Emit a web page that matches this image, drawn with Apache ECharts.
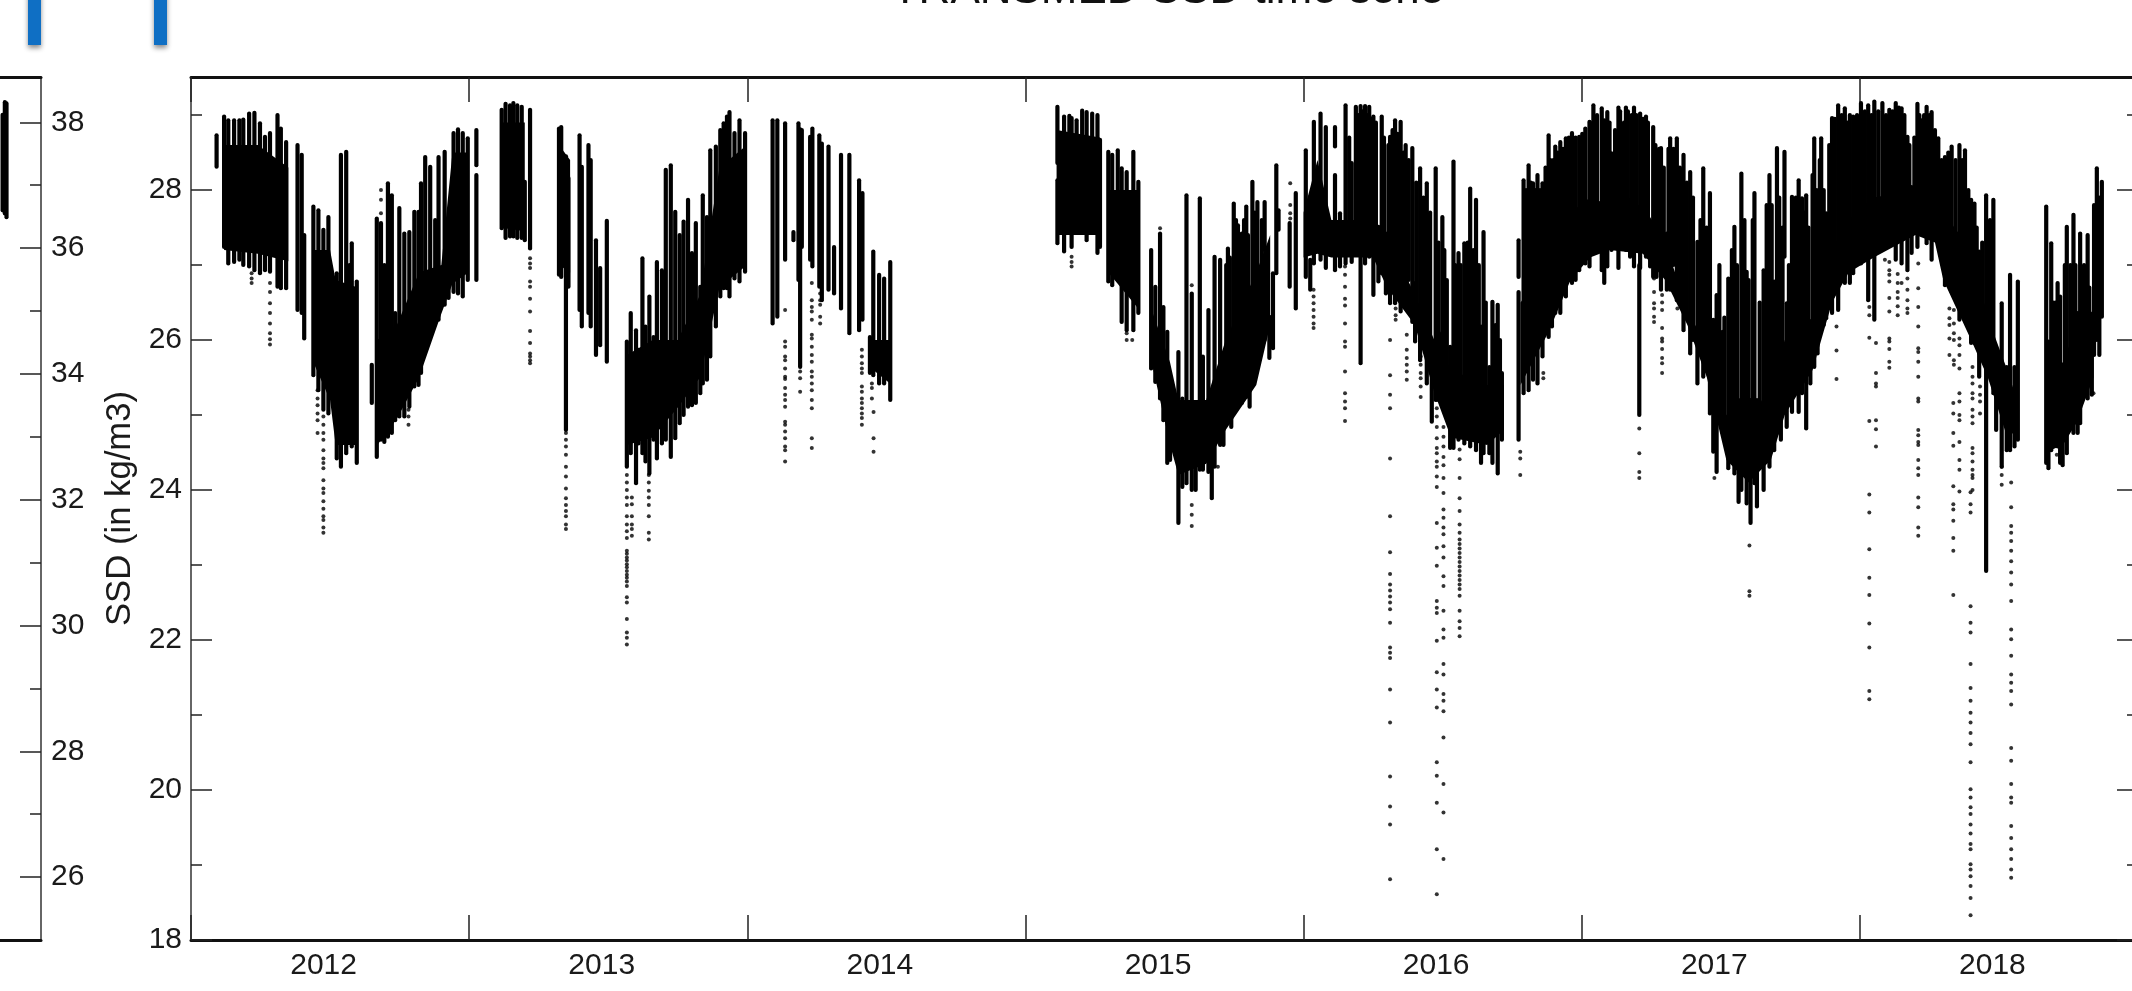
<!DOCTYPE html>
<html><head><meta charset="utf-8">
<style>html,body{margin:0;padding:0;background:#fff;overflow:hidden}#c{width:2132px;height:991px}</style>
<script src="https://cdn.jsdelivr.net/npm/echarts@6/dist/echarts.min.js"></script>
</head><body><div id="c"></div>
<script>
const yearLabels = ['2012','2013','2014','2015','2016','2017','2018'];
const titleText = 'TRANSMED SSD time serie';
const yName = 'SSD (in kg/m3)';

// Each stripe: time (decimal year), highest and lowest SSD sampled around that time.
const stripeYear = [
2012.092,2012.119,2012.134,2012.155,2012.174,2012.188,2012.209,2012.228,2012.248,2012.266,
2012.284,2012.311,2012.323,2012.342,2012.383,2012.398,2012.407,2012.440,2012.458,2012.476,
2012.494,2012.524,2012.539,2012.558,2012.570,2012.578,2012.596,2012.650,2012.668,2012.683,
2012.695,2012.708,2012.722,2012.734,2012.749,2012.767,2012.785,2012.803,2012.818,2012.827,
2012.842,2012.860,2012.878,2012.890,2012.912,2012.926,2012.944,2012.960,2012.977,2012.995,
2013.026,2013.026,
2013.117,2013.131,2013.147,2013.159,2013.173,2013.189,2013.200,2013.219,
2013.323,2013.331,2013.348,2013.357,2013.397,2013.405,2013.429,2013.437,2013.456,2013.471,2013.495,
2013.567,2013.581,2013.600,2013.609,2013.623,2013.634,2013.648,2013.663,2013.675,2013.693,
2013.707,2013.725,2013.741,2013.757,2013.771,2013.787,2013.801,2013.815,2013.831,2013.840,
2013.855,2013.867,2013.887,2013.903,2013.915,2013.927,2013.936,2013.954,2013.972,2013.992,
2014.091,2014.108,2014.136,2014.166,2014.184,2014.190,2014.196,2014.226,2014.234,2014.259,
2014.268,2014.292,2014.312,2014.337,2014.367,2014.402,2014.414,2014.441,2014.453,2014.474,
2014.492,2014.514,
2015.115,2015.115,2015.139,2015.158,2015.166,2015.184,2015.204,2015.220,2015.240,2015.259,
2015.268,2015.298,2015.312,2015.332,2015.346,2015.364,2015.388,2015.406,2015.452,2015.467,
2015.484,2015.496,2015.510,2015.520,2015.550,2015.564,2015.579,2015.598,2015.612,2015.627,
2015.638,2015.658,2015.670,2015.680,2015.700,2015.712,2015.728,2015.740,2015.749,2015.764,
2015.778,2015.794,2015.806,2015.816,2015.834,2015.860,2015.860,2015.877,2015.890,2015.902,
2015.910,2015.950,2015.972,2016.008,2016.024,
2016.037,2016.061,2016.080,2016.113,2016.113,2016.131,2016.151,2016.173,2016.188,2016.205,
2016.221,2016.236,2016.251,2016.269,2016.281,2016.296,2016.311,2016.329,2016.349,2016.367,
2016.391,2016.401,2016.419,2016.443,2016.461,2016.475,2016.487,2016.499,2016.506,2016.527,
2016.539,2016.557,2016.578,2016.599,2016.620,2016.638,2016.647,2016.668,2016.679,2016.698,
2016.713,2016.773,2016.773,2016.791,2016.809,2016.825,2016.841,2016.859,2016.881,2016.893,
2016.905,2016.923,2016.943,2016.965,2016.991,2017.013,2017.028,
2017.042,2017.072,2017.081,2017.092,2017.107,2017.132,2017.144,2017.159,2017.174,2017.188,
2017.207,2017.210,2017.231,2017.246,2017.257,2017.269,2017.285,2017.306,2017.318,2017.342,
2017.366,2017.390,2017.416,2017.437,2017.461,2017.473,2017.485,2017.507,2017.527,2017.549,
2017.564,2017.574,2017.593,2017.607,2017.621,2017.630,2017.654,2017.675,2017.692,2017.702,
2017.716,2017.729,2017.737,2017.756,2017.780,2017.792,2017.807,2017.822,2017.836,2017.848,
2017.861,2017.879,2017.900,2017.922,2017.946,2017.964,2017.976,2018.004,2018.030,2018.052,
2018.081,2018.106,2018.129,2018.150,2018.171,2018.186,2018.207,2018.222,2018.240,2018.258,
2018.282,2018.306,2018.330,2018.358,2018.378,2018.400,2018.412,2018.429,2018.454,2018.480,
2018.490,2018.510,2018.528,2018.540,2018.556,2018.568,
2018.670,2018.678,2018.688,2018.711,2018.720,2018.729,2018.744,2018.768,2018.783,2018.792,
2018.819,2018.834,2018.852,2018.870,
// second pass: shorter excursions between the tall ones
2015.722,2015.735,2015.757,2015.771,2015.786,2015.800,2015.825,2015.850,
2016.164,2016.197,2016.212,2016.229,2016.245,2016.260,2016.289,2016.305,2016.320,2016.338,2016.359,2016.378,
2016.405,2016.431,2016.455,2016.485,2016.515,2016.545,2016.565,2016.590,2016.610,2016.630,
2016.655,2016.690,2016.706,2016.800,2016.817,2016.833,2016.850,2016.870,2016.887,2016.898,
2016.914,2016.933,2016.954,2016.978,2017.002,2017.030,2017.055,2017.100,2017.120,2017.138,
2017.152,2017.166,2017.180,2017.196,2017.220,2017.238,2017.265,2017.278,2017.295,2017.312,
2017.330,2017.353,2017.378,2017.400,2017.427,2017.449,2017.495,2017.513,2017.540,2017.558,
2017.585,2017.600,2017.615,2017.640,2017.665,2017.683,2017.710,2017.722,2017.745,2017.770,
2017.800,2017.815,2017.830,2017.845,2017.856,2017.870,2017.890,2017.910,2017.935,2017.955,
2017.990,2018.018,2018.042,2018.066,2018.094,2018.118,2018.140,2018.160,2018.178,2018.196,
2018.214,2018.231,2018.250,2018.270,2018.294,2018.318,2018.344,2018.368,2018.390,2018.405,
2018.420,2018.440,2018.468,2018.695,2018.703,2018.737,2018.757,2018.775,2018.806,2018.825,
2018.842,2018.861
];
const stripeHigh = [
28.73,28.98,28.93,28.93,28.93,28.94,29.02,29.03,28.89,28.71,
28.76,29.0,28.82,28.64,28.6,28.47,27.4,27.78,27.73,27.47,
27.64,26.89,28.47,28.51,27.0,27.29,26.78,25.67,27.62,27.56,
27.0,28.09,27.93,26.36,27.76,27.42,27.44,27.71,27.71,28.09,
28.44,28.31,27.6,28.44,28.51,27.29,28.76,28.81,28.76,28.69,
28.8,28.2,
29.07,29.15,29.13,29.16,29.13,29.11,28.11,29.07,
28.82,28.84,28.45,28.16,28.73,28.31,28.6,28.4,27.33,26.96,27.59,
25.98,26.36,26.13,25.87,27.09,26.18,26.58,26.04,27.04,26.93,
28.27,28.33,27.71,27.4,27.58,27.87,27.16,27.56,26.71,27.93,
27.64,28.53,28.58,28.8,28.89,28.98,29.04,28.76,28.93,28.76,
28.93,28.93,28.89,27.44,28.89,28.81,28.8,28.71,28.82,28.73,
28.62,28.58,27.24,28.47,28.47,28.13,27.96,26.04,27.18,26.87,
26.82,27.04,
29.11,28.13,28.98,28.99,28.96,28.93,29.06,29.04,29.02,29.0,
28.67,28.51,28.47,28.53,28.29,28.24,28.51,28.11,27.2,26.71,
27.42,26.44,26.11,25.51,25.84,25.22,27.93,26.62,25.02,27.89,
25.78,26.4,24.76,27.11,27.07,25.64,27.22,25.64,27.82,27.53,
27.42,27.78,26.09,28.11,27.84,27.84,27.09,26.31,26.89,28.33,
27.73,27.56,27.96,28.53,27.07,
28.91,29.02,28.84,28.84,28.2,27.69,29.13,28.36,29.11,29.12,
29.12,29.11,28.98,27.51,28.98,27.42,28.71,28.93,28.91,28.6,
28.56,26.76,28.29,28.09,25.64,28.29,26.09,27.64,27.2,25.91,
28.38,27.16,27.29,28.02,27.87,26.18,27.44,25.64,26.51,26.47,
25.56,27.33,26.64,28.13,28.33,28.09,28.2,28.09,28.73,27.6,
28.58,28.64,28.69,28.76,28.71,28.82,28.91,
29.13,29.09,28.93,29.04,28.49,29.1,28.6,29.1,27.87,29.1,
27.0,29.02,28.98,27.2,28.84,27.33,28.56,27.42,28.69,28.69,
28.47,28.24,27.31,28.29,27.96,26.27,26.6,26.11,26.82,27.51,
25.2,28.22,26.91,25.2,27.96,25.2,26.93,28.2,26.78,28.56,
26.09,28.51,26.49,27.91,28.13,27.89,27.93,26.09,28.69,27.42,
28.69,27.69,28.96,29.13,29.09,29.0,28.98,29.16,29.13,29.18,
29.16,29.07,29.16,29.09,28.71,28.04,29.15,28.93,29.11,29.04,
28.69,28.44,28.58,28.6,28.53,27.87,27.82,27.18,27.93,27.87,
25.64,26.49,25.64,26.87,25.64,26.78,
27.78,25.98,27.29,26.76,26.58,25.29,27.51,27.67,26.36,27.42,
27.4,25.82,28.29,28.11,
27.0,27.1,27.6,27.4,27.6,27.4,27.7,27.6,
28.7,29.0,29.05,29.0,28.95,28.9,28.7,28.6,28.8,28.75,28.5,28.4,
28.1,27.9,27.7,27.3,26.8,27.0,27.0,27.3,27.2,27.0,
26.5,26.2,26.0,28.0,28.1,28.0,28.0,28.3,28.4,28.4,
28.5,28.55,28.7,28.7,28.75,28.9,29.0,28.9,28.8,29.05,
28.9,29.05,29.0,29.0,28.95,28.9,28.6,28.55,28.3,28.55,
28.55,28.3,28.1,27.9,27.6,27.5,27.0,26.3,27.2,27.0,
27.6,26.8,27.6,26.5,27.8,27.8,27.9,27.5,27.0,27.9,
27.7,27.5,28.2,28.0,28.4,28.0,28.6,28.95,29.0,28.9,
29.0,29.05,29.0,29.05,29.0,29.05,29.1,29.0,28.6,28.7,
29.0,29.0,29.0,28.8,28.4,28.5,28.4,28.4,28.0,27.8,
27.5,27.3,27.6,26.5,26.5,27.0,27.0,27.0,27.0,26.7,
27.8,27.9
];
const stripeLow = [
28.31,27.24,27.02,27.04,27.07,27.0,26.98,26.93,26.89,26.93,
26.91,26.71,26.69,26.69,26.4,26.36,26.02,25.53,25.33,25.07,
25.02,24.42,24.31,24.49,24.7,24.58,24.36,25.16,24.44,24.67,
24.64,24.71,24.76,24.93,24.98,24.98,25.11,25.38,25.4,25.56,
25.89,26.09,26.24,26.27,26.47,26.56,26.64,26.62,26.58,26.8,
28.33,26.8,
27.49,27.36,27.38,27.38,27.36,27.36,27.33,27.22,
26.87,26.84,24.8,26.71,26.4,26.18,26.36,26.18,25.8,25.93,25.71,
24.31,24.49,24.09,24.62,24.49,24.38,24.22,24.67,24.42,24.62,
24.67,24.44,24.69,24.89,25.0,25.11,25.13,25.16,25.29,25.42,
25.47,25.78,26.18,26.58,26.69,26.69,26.58,26.82,26.78,26.91,
26.22,26.31,27.07,27.33,26.8,25.64,27.24,27.07,26.98,26.71,
26.53,26.67,26.62,26.42,26.09,26.13,26.27,25.56,25.53,25.42,
25.42,25.2,
28.36,27.29,27.18,27.56,27.24,27.67,27.44,27.33,27.64,27.16,
27.24,26.78,26.73,26.9,26.24,26.13,26.13,26.36,25.62,25.44,
25.22,24.93,24.36,24.4,23.56,24.04,24.09,24.0,24.0,24.27,
24.27,24.24,23.89,24.31,24.6,24.6,25.07,24.84,25.07,25.18,
25.16,25.24,25.11,25.42,25.98,27.2,26.0,25.76,25.89,26.89,
27.47,26.71,26.42,26.84,26.67,
27.02,27.07,26.96,28.58,26.93,26.98,27.02,27.04,27.16,25.69,
27.02,27.11,26.6,26.78,26.89,26.62,26.49,26.49,26.38,26.44,
26.24,25.98,25.73,25.42,24.91,25.2,25.2,25.2,25.07,24.56,
24.56,24.67,24.62,24.58,24.53,24.36,24.49,24.49,24.36,24.22,
24.67,26.84,24.67,25.29,25.33,25.47,25.42,25.78,26.04,26.18,
26.36,26.36,26.58,26.76,26.93,27.02,26.98,
27.18,26.93,26.76,26.98,27.2,26.96,27.24,27.2,27.11,26.98,
25.0,26.96,27.11,26.98,26.84,26.84,26.67,26.67,26.67,26.53,
26.13,25.82,25.42,25.51,25.02,24.51,24.24,24.76,24.29,24.22,
23.84,24.0,23.82,23.56,24.09,23.78,24.0,24.31,24.53,24.76,
24.67,27.11,24.84,25.04,25.04,25.29,24.82,25.42,25.64,25.82,
26.31,26.29,26.36,26.4,26.76,26.76,26.89,27.02,26.53,26.27,
27.2,27.29,27.07,27.02,26.93,27.16,27.24,27.42,27.29,27.07,
27.42,26.73,26.64,26.27,26.31,25.96,25.96,25.51,22.92,25.29,
24.8,24.31,24.53,24.53,24.58,24.67,
24.36,24.29,24.53,24.58,24.36,24.33,24.49,24.76,24.76,24.89,
25.22,25.27,26.0,26.31,
25.6,25.7,25.7,25.8,25.8,25.9,26.0,26.0,
27.4,27.4,27.4,27.4,27.4,27.4,27.0,27.0,27.0,26.8,26.8,26.8,
26.4,26.3,25.9,25.4,25.0,25.2,25.2,25.2,25.2,25.2,
25.2,25.2,25.2,26.0,26.0,26.0,26.0,26.4,26.4,26.4,
26.8,26.8,26.8,26.8,27.3,27.3,27.3,27.4,27.4,27.4,
27.4,27.4,27.4,27.4,27.4,27.4,27.0,27.0,27.0,27.0,
27.0,26.5,26.3,26.0,25.9,25.7,25.0,24.8,24.8,24.8,
24.8,24.8,24.8,24.8,25.2,25.2,25.2,25.2,25.8,25.8,
25.8,25.8,26.2,26.2,26.2,26.2,26.9,26.9,27.2,27.2,
27.6,27.6,27.6,27.6,27.6,27.6,27.6,27.6,27.6,27.6,
27.6,27.6,27.6,27.6,27.3,27.0,27.0,27.0,26.8,26.6,
26.4,26.0,25.8,25.2,25.2,25.2,25.2,25.2,25.8,25.8,
25.8,25.8
];

// Solid body of merged samples per deployment: deployment number, time, upper and lower limit.
const bodySegment = [
0,0,0, 1,1,1,1, 2,2,2,2,2,2, 3,3, 4,4, 5,5,5,5,5,5, 6,6, 7,7, 8,8, 9,9,9,9,9,9,9,
10,10,10,10,10,10,10,10,10,10,
11,11,11,11,11,11,11,11,11,11,11,11,11,11,11,11,11,11,11,11,11,11,11,11,
12,12,12,12
];
const bodyYear = [
2012.119,2012.24,2012.35, 2012.44,2012.50,2012.52,2012.60, 2012.67,2012.74,2012.82,2012.90,2012.94,2012.998,
2013.111,2013.20, 2013.323,2013.363, 2013.567,2013.66,2013.75,2013.83,2013.90,2013.999,
2014.453,2014.52, 2015.112,2015.268, 2015.298,2015.41,
2015.454,2015.52,2015.55,2015.65,2015.72,2015.83,2015.88,
2016.0,2016.05,2016.10,2016.25,2016.30,2016.40,2016.47,2016.53,2016.66,2016.72,
2016.78,2016.88,2016.96,2017.03,2017.10,2017.22,2017.30,2017.38,2017.45,2017.52,2017.60,2017.68,
2017.73,2017.83,2017.90,2017.96,2018.05,2018.20,2018.27,2018.30,2018.40,2018.46,2018.53,2018.565,
2018.666,2018.73,2018.78,2018.84
];
const bodyTop = [
28.6,28.6,28.3, 27.2,27.2,26.8,26.7, 26.0,26.2,26.9,27.0,28.5,28.5,
28.9,28.9, 28.6,28.4, 25.8,26.0,26.0,26.6,28.3,28.6,
26.0,26.0, 28.8,28.7, 28.0,28.0,
26.4,25.7,25.2,25.2,26.0,26.9,27.4,
27.7,28.4,27.6,27.6,27.4,26.6,26.0,25.6,25.4,25.4,
26.5,27.0,27.7,27.9,27.8,27.8,27.3,26.4,25.9,25.0,24.9,25.4,
26.0,26.3,27.2,27.6,27.9,28.0,27.9,27.7,27.2,26.3,25.6,25.2,
25.7,25.7,26.2,26.4
];
const bodyBottom = [
27.2,27.15,27.05, 25.7,25.2,24.6,24.6, 24.6,24.95,25.5,26.35,26.75,26.9,
27.5,27.45, 27.0,26.9, 24.6,24.7,25.1,25.5,26.7,27.0,
25.6,25.4, 27.4,27.4, 26.9,26.4,
25.7,24.6,24.2,24.35,24.8,25.4,26.2,
27.1,27.15,27.1,27.1,26.7,26.2,25.3,24.7,24.6,24.8,
25.4,26.1,26.8,27.1,27.2,27.15,26.8,26.2,25.5,24.4,24.1,24.4,
25.0,25.6,26.5,26.9,27.1,27.4,27.3,26.8,26.0,25.5,24.7,24.8,
24.5,24.6,24.9,25.5
];

// Isolated readings below the main envelope, grouped by time.
const outlierYear = [
2012.218,2012.284,2012.455,2012.476,2012.683,2012.782,
2013.219,2013.348,2013.567,2013.585,2013.646,
2014.136,2014.190,2014.232,2014.262,2014.412,2014.448,2014.454,
2015.166,2015.364,2015.384,2015.484,2015.598,2015.692,2015.952,2016.036,
2016.149,2016.311,2016.331,2016.371,2016.421,2016.479,2016.503,2016.561,2016.779,2016.862,
2017.207,2017.260,2017.289,2017.344,2017.477,2017.603,2017.916,
2018.034,2018.058,2018.090,2018.106,2018.136,2018.150,2018.171,2018.210,2018.322,2018.336,2018.338,2018.358,
2018.398,2018.405,2018.432,2018.510,2018.544,2018.708,2018.840
];
const outlierValues = [
[26.89,26.82,26.76],
[26.76,26.64,26.49,26.36,26.22,26.09,26.01,25.94],
[25.33,25.22,25.13,25.02,24.93,24.76],
[24.98,24.87,24.76,24.67,24.53,24.42,24.36,24.29,24.13,24.02,23.96,23.85,23.75,23.65,23.6,23.5,23.43],
[28.0,27.87,27.69],
[25.07,24.98,24.87],
[27.09,27.02,26.96,26.78,26.71,26.55,26.38,26.12,25.96,25.82,25.78,25.73,25.69],
[24.76,24.67,24.58,24.47,24.31,24.18,24.02,23.89,23.8,23.72,23.65,23.54,23.48],
[24.2,24.1,24.0,23.9,23.8,23.65,23.54,23.45,23.36,23.19,23.15,23.1,23.06,23.01,22.97,22.92,22.87,22.83,22.78,22.72,22.57,22.5,22.28,22.1,22.03,21.94],
[23.9,23.81,23.65,23.54,23.48,23.39],
[24.2,24.1,23.99,23.9,23.8,23.65,23.43,23.34],
[26.4,25.98,25.91,25.78,25.73,25.62,25.51,25.48,25.36,25.27,25.2,25.11,24.91,24.87,24.78,24.69,24.58,24.53,24.38],
[25.58,25.49,25.31],
[26.76,26.53,26.44,26.38,26.27,26.07,26.02,25.91,25.8,25.71,25.58,25.51,25.42,25.33,25.2,25.09,24.69,24.56],
[26.62,26.53,26.47,26.31,26.22],
[25.87,25.78,25.69,25.62,25.56,25.38,25.31,25.22,25.16,25.09,25.02,24.96,24.87],
[25.42,25.36,25.22],
[25.04,24.69,24.51],
[27.11,27.04,26.98],
[26.09,26.0],
[26.0],
[27.49],
[26.73,23.8,23.67,23.52],
[24.31],
[28.09,27.8,27.69,27.62],
[26.67,26.58,26.49,26.4,26.31,26.22,26.16],
[26.98,26.87,26.71,26.55,26.46,26.22,25.98,25.91,25.58,25.29,25.18,25.09,24.92],
[26.0,25.53,25.27,25.09,24.42,23.65,23.17,22.88,22.74,22.66,22.58,22.5,22.41,22.23,21.9,21.83,21.76,21.34,20.9,20.18,19.78,19.54,18.81],
[26.53,26.42,26.33,26.27],
[26.07,25.87,25.76,25.67,25.58,25.47],
[25.78,25.67,25.56,25.49,25.38,25.24],
[25.2,25.09,24.98,24.84,24.69,24.56,24.49,24.38,24.31,24.18,24.04,23.56,23.23,22.99,22.52,22.43,22.36,21.99,21.57,21.34,21.1,20.37,20.19,19.83,19.21,18.61],
[24.84,24.71,24.58,24.44,24.33,24.16,23.96,23.74,23.63,23.5,23.41,23.25,23.1,22.85,22.72,22.39,22.14,22.03,21.68,21.54,21.28,21.19,21.05,20.7,20.08,19.7,19.08],
[24.54,24.41,24.16,23.89,23.72,23.54,23.43,23.34,23.28,23.22,23.16,23.1,23.04,22.98,22.92,22.86,22.8,22.74,22.68,22.59,22.39,22.25,22.16,22.05],
[24.51,24.42,24.2],
[25.56,25.49],
[24.82,24.49,24.24,24.16],
[26.82,26.64,26.49,26.42,26.31,26.24],
[26.6,26.5,26.4,26.16,26.02,25.98,25.88,25.76,25.69,25.56],
[26.53,26.42],
[24.16],
[23.26,22.65,22.59],
[26.18,25.86,25.48],
[26.44,26.33,26.03,24.92,23.94,23.7,23.21,22.83,22.6,22.22,21.9,21.32,21.21],
[25.96,25.56,25.42,25.38,24.93,24.81,24.58],
[27.07],
[27.04,26.93,26.87,26.78,26.56,26.38,26.02,25.98,25.88,25.71,25.63],
[26.88,26.76,26.64,26.56,26.45,26.33],
[26.76],
[26.82,26.67,26.53,26.42,26.36],
[27.02,26.69,26.44,26.18,25.89,25.84,25.71,25.51,25.22,25.18,24.8,24.73,24.64,24.6,24.4,24.29,24.2,23.9,23.77,23.5,23.39],
[26.42,26.29,26.2,26.02,25.8],
[25.16,25.02,24.76,24.59,24.05,23.81,23.74,23.59,23.36,23.19,22.6],
[26.4,26.22,26.09,26.0,25.73,25.67],
[26.02,25.93,25.8,25.62,25.29,25.18,25.0,24.93,24.64,24.4,24.27,23.98],
[23.97,23.81,23.7,22.45,22.23,22.1,21.68,21.36,21.19,21.03,20.9,20.76,20.61,20.37,20.01,19.9,19.77,19.68,19.54,19.42,19.28,19.21,19.01,18.94,18.85,18.72,18.56,18.33],
[25.64,25.51,25.42,25.29,25.22,25.07,24.98,24.89,24.56,24.49,24.38,24.27,24.2,24.16,24.0],
[25.38,25.27,25.18,25.02],
[24.31,24.2,24.07],
[24.1,23.77,23.52,23.43,23.32,23.19,23.05,22.9,22.74,22.52,22.14,22.01,21.79,21.54,21.43,21.32,21.14,20.56,20.39,20.08,19.9,19.83,19.52,19.36,19.21,19.08,18.94,18.83],
[24.47],
[25.29]
];

// The neighbouring panel, of which only the last stripes remain inside the picture.
const leftYear = [2018.862,2018.870,2018.876];
const leftHigh = [38.12,38.32,38.3];
const leftLow = [36.6,36.55,36.49];
const leftTicks = [26,28,30,32,34,36,38];

const ink = '#111';
function zip3(a,b,c){return a.map((v,i)=>[v,b[i],c[i]]);}
const stripeData = zip3(stripeYear,stripeHigh,stripeLow);
const leftData = zip3(leftYear,leftHigh,leftLow);
const bodyRows = bodyYear.map((y,i)=>[bodySegment[i],y,bodyTop[i],bodyBottom[i]]);
const bodyIds = [...new Set(bodySegment)];
const dotData = [];
outlierYear.forEach((y,i)=>outlierValues[i].forEach(v=>dotData.push([y,v])));

function renderStripe(params,api){
  const p0 = api.coord([api.value(0),api.value(1)]);
  const p1 = api.coord([api.value(0),api.value(2)]);
  return {type:'line',shape:{x1:p0[0],y1:p0[1],x2:p1[0],y2:p1[1]},
    style:{stroke:'#000',lineWidth:4.2,lineCap:'round'}};
}
function renderBody(params,api){
  const rows = bodyRows.filter(r=>r[0]===api.value(0));
  const upper = rows.map(r=>api.coord([r[1],r[2]]));
  const lower = rows.map(r=>api.coord([r[1],r[3]])).reverse();
  return {type:'polygon',shape:{points:upper.concat(lower)},style:{fill:'#000'}};
}
const lineStrong = {lineStyle:{color:ink,width:3}};
const lineThin = {lineStyle:{color:'#333',width:1.5}};
const tickStyle = {color:'#222',width:1.5};
const fontBase = {fontFamily:'Liberation Sans',color:'#1a1a1a',fontSize:30};

const chart = echarts.init(document.getElementById('c'),null,{renderer:'canvas',width:2132,height:991});
chart.setOption({
  animation:false,
  backgroundColor:'#fff',
  graphic:[
    ...[28,154].map(x=>({type:'rect',shape:{x:x,y:-10,width:13,height:55},
      style:{fill:'#0f6fc4',shadowColor:'rgba(0,0,0,0.45)',shadowBlur:5,shadowOffsetY:3},z:5})),
    {type:'text',x:1168,y:13,z:5,style:{text:titleText,x:0,y:0,align:'center',verticalAlign:'bottom',
      font:'44px "Liberation Sans"',fill:'#111'}}
  ],
  grid:[
    {left:191,top:77,width:1947,height:863,outerBoundsMode:'none'},
    {left:0,top:77,width:41,height:863,outerBoundsMode:'none'}
  ],
  xAxis:[
    {gridIndex:0,type:'category',position:'bottom',data:yearLabels,boundaryGap:true,
      axisLine:lineStrong,
      axisTick:{show:true,inside:true,length:25,lineStyle:tickStyle},
      axisLabel:{...fontBase,margin:11,padding:[0,13,0,0],interval:0},splitLine:{show:false}},
    {gridIndex:0,type:'category',position:'top',data:yearLabels,boundaryGap:true,
      axisLine:lineStrong,
      axisTick:{show:true,inside:true,length:25,lineStyle:tickStyle},
      axisLabel:{show:false},splitLine:{show:false}},
    {gridIndex:0,type:'value',min:2012,max:2019,show:false,splitLine:{show:false}},
    {gridIndex:1,type:'value',position:'bottom',min:2018.8526,max:2019,
      axisLine:lineStrong,axisTick:{show:false},axisLabel:{show:false},splitLine:{show:false}},
    {gridIndex:1,type:'value',position:'top',min:2018.8526,max:2019,
      axisLine:lineStrong,axisTick:{show:false},axisLabel:{show:false},splitLine:{show:false}}
  ],
  yAxis:[
    {gridIndex:0,type:'value',position:'left',min:18,max:29.507,
      name:yName,nameLocation:'middle',nameGap:50,
      nameTextStyle:{fontFamily:'Liberation Sans',fontSize:34.7,color:'#1a1a1a'},
      axisLine:{show:true,onZero:false,...lineThin},
      axisTick:{show:true,inside:true,length:21,customValues:[18,20,22,24,26,28],lineStyle:tickStyle},
      axisLabel:{...fontBase,margin:9,customValues:[18,20,22,24,26,28]},splitLine:{show:false}},
    {gridIndex:0,type:'value',position:'left',min:18,max:29.507,
      axisLine:{show:false},
      axisTick:{show:true,inside:true,length:11,customValues:[19,21,23,25,27,29],lineStyle:tickStyle},
      axisLabel:{show:false},splitLine:{show:false}},
    {gridIndex:0,type:'value',position:'right',min:18,max:29.507,
      axisLine:{show:true,onZero:false,...lineThin},
      axisTick:{show:true,inside:true,length:21,customValues:[18,20,22,24,26,28],lineStyle:tickStyle},
      axisLabel:{show:false},splitLine:{show:false}},
    {gridIndex:0,type:'value',position:'right',min:18,max:29.507,
      axisLine:{show:false},
      axisTick:{show:true,inside:true,length:11,customValues:[19,21,23,25,27,29],lineStyle:tickStyle},
      axisLabel:{show:false},splitLine:{show:false}},
    {gridIndex:1,type:'value',position:'right',min:25,max:38.72,
      axisLine:{show:true,onZero:false,...lineThin},
      axisTick:{show:true,inside:true,length:21,customValues:leftTicks,lineStyle:tickStyle},
      axisLabel:{...fontBase,margin:10,customValues:leftTicks},splitLine:{show:false}},
    {gridIndex:1,type:'value',position:'right',min:25,max:38.72,
      axisLine:{show:false},
      axisTick:{show:true,inside:true,length:11,customValues:[27,29,31,33,35,37],lineStyle:tickStyle},
      axisLabel:{show:false},splitLine:{show:false}}
  ],
  series:[
    {type:'custom',xAxisIndex:2,yAxisIndex:0,renderItem:renderBody,data:bodyIds.map(i=>[i]),
      encode:{x:-1,y:-1},silent:true,clip:true},
    {type:'custom',xAxisIndex:2,yAxisIndex:0,renderItem:renderStripe,data:stripeData,silent:true,clip:true},
    {type:'scatter',xAxisIndex:2,yAxisIndex:0,data:dotData,symbol:'circle',symbolSize:4,
      itemStyle:{color:'#000'},silent:true},
    {type:'custom',xAxisIndex:3,yAxisIndex:4,renderItem:renderStripe,data:leftData,silent:true,clip:true}
  ]
});
</script></body></html>
